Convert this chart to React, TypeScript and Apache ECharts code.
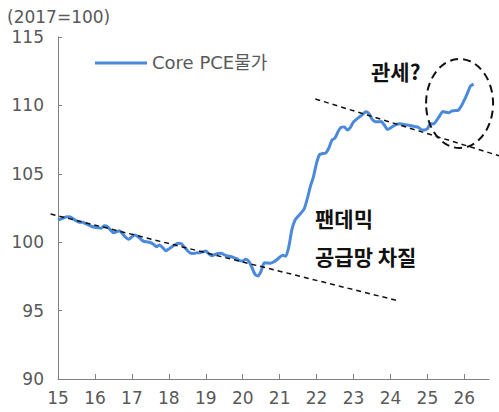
import React, { useEffect, useRef } from 'react';
import * as echarts from 'echarts';

const startYear = 2015;
const totalMonths = 141; // Jan 2015 .. Sep 2026 axis span
const seriesName = 'Core PCE물가';
const unitLabel = '(2017=100)';
const yMin = 90;
const yMax = 115;
const yStep = 5;

const core2015 = [101.62, 101.70, 101.80, 101.86, 101.85, 101.70, 101.55, 101.45, 101.45, 101.35, 101.25, 101.15];
const core2016 = [101.09, 101.05, 101.02, 101.20, 101.15, 100.90, 100.69, 100.75, 100.84, 100.60, 100.35, 100.21];
const core2017 = [100.40, 100.53, 100.40, 100.20, 100.05, 100.02, 99.98, 99.85, 99.67, 99.80, 99.60, 99.38];
const core2018 = [99.50, 99.67, 99.80, 99.92, 99.90, 99.65, 99.40, 99.20, 99.18, 99.22, 99.23, 99.30];
const core2019 = [99.36, 99.15, 99.01, 99.10, 99.18, 99.19, 99.08, 98.99, 98.95, 98.88, 98.80, 98.65];
const core2020 = [98.63, 98.75, 98.60, 98.15, 97.65, 97.53, 97.90, 98.50, 98.48, 98.46, 98.55, 98.70];
const core2021 = [98.90, 99.05, 98.98, 99.70, 100.95, 101.62, 101.90, 102.15, 102.45, 103.20, 104.10, 104.80];
const core2022 = [105.80, 106.42, 106.48, 106.52, 106.90, 107.47, 107.62, 108.10, 108.40, 108.42, 108.20, 108.40];
const core2023 = [108.80, 109.00, 109.17, 109.35, 109.54, 109.40, 109.00, 108.82, 108.80, 108.82, 108.57, 108.25];
const core2024 = [108.35, 108.50, 108.62, 108.66, 108.62, 108.57, 108.55, 108.50, 108.45, 108.40, 108.22, 108.20];
const core2025 = [108.30, 108.66, 108.64, 108.90, 109.25, 109.55, 109.50, 109.47, 109.60, 109.62, 109.65, 109.95];
const core2026 = [110.40, 110.90, 111.42, 111.56];

// Annotation guides (year-fraction, index value)
const trendPre = [[2014.80, 102.06], [2024.235, 95.70]];
const trendPost = [[2021.965, 110.47], [2026.96, 106.30]];
const ellipseCenter = [2025.87, 110.14];

const annotTariff = '관세?';
const annotPandemic1 = '팬데믹';
const annotPandemic2 = '공급망 차질';

const latinFont = '"DejaVu Sans", "Noto Sans CJK KR", sans-serif';
const krFont = '"Noto Sans CJK KR", sans-serif';
const labelColor = '#595959';
const axisColor = '#808080';
const lineColor = '#4A89DC';

export default function App() {
  const ref = useRef<HTMLDivElement>(null);

  useEffect(() => {
    document.body.style.margin = '0';
    if (!ref.current) return;
    const chart = echarts.init(ref.current, undefined, { renderer: 'svg' });

    const values = [
      ...core2015, ...core2016, ...core2017, ...core2018, ...core2019, ...core2020,
      ...core2021, ...core2022, ...core2023, ...core2024, ...core2025, ...core2026,
    ];
    const categories: string[] = [];
    for (let i = 0; i < totalMonths; i++) {
      const y = startYear + Math.floor(i / 12);
      const m = (i % 12) + 1;
      categories.push(`${y}-${m < 10 ? '0' + m : m}`);
    }

    chart.setOption({
      animation: false,
      grid: { left: 58, right: 10, top: 37, bottom: 33, containLabel: false },
      legend: {
        data: [seriesName],
        icon: 'rect',
        left: 95,
        top: 54,
        padding: 0,
        itemWidth: 52,
        itemHeight: 3,
        itemStyle: { color: lineColor },
        textStyle: { fontSize: 18, color: labelColor, fontFamily: latinFont },
      },
      xAxis: {
        type: 'category',
        data: categories,
        boundaryGap: false,
        axisLine: { lineStyle: { color: axisColor, width: 1 } },
        axisTick: {
          inside: true,
          length: 5,
          interval: (idx: number) => idx % 12 === 0 && idx > 0,
          lineStyle: { color: axisColor },
        },
        axisLabel: {
          interval: (idx: number) => idx % 12 === 0,
          formatter: (val: string) => val.slice(2, 4),
          fontSize: 17,
          color: labelColor,
          fontFamily: latinFont,
          margin: 10,
        },
        splitLine: { show: false },
      },
      yAxis: {
        type: 'value',
        min: yMin,
        max: yMax,
        interval: yStep,
        axisLine: { show: true, lineStyle: { color: axisColor, width: 1 } },
        axisTick: { show: true, inside: true, length: 4, lineStyle: { color: axisColor } },
        axisLabel: { fontSize: 17, color: labelColor, fontFamily: latinFont, margin: 14 },
        splitLine: { show: false },
      },
      series: [
        {
          name: seriesName,
          type: 'line',
          data: values,
          symbol: 'none',
          smooth: 0.2,
          lineStyle: { color: lineColor, width: 3 },
          itemStyle: { color: lineColor },
        },
      ],
    });

    const x0 = (chart.convertToPixel({ xAxisIndex: 0 }, categories[0]) as unknown) as number;
    const x12 = (chart.convertToPixel({ xAxisIndex: 0 }, categories[12]) as unknown) as number;
    const yearW = x12 - x0;
    const px = (t: number) => x0 + (t - startYear) * yearW;
    const py = (v: number) => (chart.convertToPixel({ yAxisIndex: 0 }, v) as unknown) as number;

    const dashLine = (pts: number[][]) => ({
      type: 'line',
      silent: true,
      shape: { x1: px(pts[0][0]), y1: py(pts[0][1]), x2: px(pts[1][0]), y2: py(pts[1][1]) },
      style: { stroke: '#111', lineWidth: 1.5, lineDash: [5, 4] },
      z: 10,
    });

    chart.setOption({
      graphic: [
        {
          type: 'text',
          x: 7,
          y: 17,
          style: { text: unitLabel, fontSize: 17, fontFamily: latinFont, fill: labelColor, verticalAlign: 'middle' },
        },
        dashLine(trendPre),
        dashLine(trendPost),
        {
          type: 'ellipse',
          silent: true,
          shape: { cx: px(ellipseCenter[0]), cy: py(ellipseCenter[1]), rx: 33.5, ry: 44.5 },
          style: { fill: 'none', stroke: '#111', lineWidth: 2, lineDash: [8, 5] },
          z: 10,
        },
        {
          type: 'text',
          x: 371,
          y: 71,
          style: { text: annotTariff, fontSize: 21, fontWeight: 'bold', fontFamily: krFont, fill: '#111', verticalAlign: 'middle' },
          z: 11,
        },
        {
          type: 'text',
          x: 315,
          y: 218,
          style: { text: annotPandemic1, fontSize: 21, fontWeight: 'bold', fontFamily: krFont, fill: '#111', verticalAlign: 'middle' },
          z: 11,
        },
        {
          type: 'text',
          x: 315,
          y: 256,
          style: { text: annotPandemic2, fontSize: 21, fontWeight: 'bold', fontFamily: krFont, fill: '#111', verticalAlign: 'middle' },
          z: 11,
        },
      ],
    });

    return () => chart.dispose();
  }, []);

  return <div ref={ref} style={{ position: 'absolute', left: 0, top: 0, width: 499, height: 412 }} />;
}
